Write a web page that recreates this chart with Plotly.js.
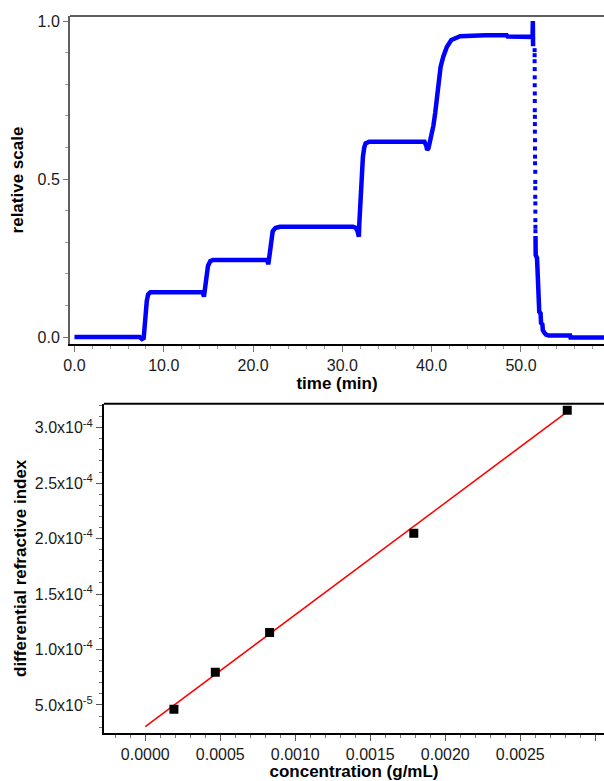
<!DOCTYPE html>
<html>
<head>
<meta charset="utf-8">
<script src="https://cdn.plot.ly/plotly-3.0.1.min.js"></script>
<style>html,body{margin:0;padding:0;background:#fff;}#chart{width:604px;height:781px;}</style>
</head>
<body>
<div id="chart"></div>
<script>
// ---- Top chart: relative scale vs time ----
const timeCurve = [0, 7.3, 7.55, 7.75, 7.85, 7.95, 8.1, 8.25, 8.5, 14.25, 14.4, 14.5, 14.6, 14.8, 14.95, 15.2, 15.5,
  21.6, 21.7, 21.85, 22.0, 22.2, 22.5, 23.0, 31.2, 31.5, 31.7, 31.85, 31.9, 31.95, 32.0, 32.05, 32.15, 32.3, 32.45, 32.6, 33.0,
  39.2, 39.4, 39.5, 39.65, 39.8, 40.0, 40.2, 40.4, 40.6, 40.8, 41.0, 41.3, 41.7, 42.2, 43.2, 46.0, 48.4, 48.5, 51.2, 51.3, 51.33, 51.36];
const relCurve = [0, 0, -0.006, -0.003, 0.03, 0.08, 0.115, 0.135, 0.142, 0.142, 0.138, 0.128, 0.145, 0.19, 0.225, 0.24, 0.244,
  0.244, 0.23, 0.26, 0.31, 0.335, 0.345, 0.349, 0.349, 0.346, 0.335, 0.318, 0.36, 0.39, 0.42, 0.46, 0.52, 0.57, 0.60, 0.613, 0.618,
  0.618, 0.605, 0.592, 0.598, 0.615, 0.64, 0.67, 0.71, 0.77, 0.82, 0.855, 0.887, 0.918, 0.94, 0.952, 0.955, 0.955, 0.951, 0.950, 0.950, 1.0, 0.92];
const timeDrop = [51.53, 51.53, 51.53, 51.54, 51.54, 51.54, 51.55, 51.55, 51.55, 51.56, 51.56, 51.56, 51.57, 51.57,
  51.58, 51.58, 51.6, 51.6, 51.6, 51.6, 51.61, 51.61, 51.61, 51.62, 51.62];
const relDrop = [0.908, 0.892, 0.873, 0.848, 0.822, 0.797, 0.771, 0.747, 0.718, 0.697, 0.674, 0.650, 0.623, 0.597,
  0.571, 0.550, 0.523, 0.491, 0.471, 0.444, 0.423, 0.397, 0.370, 0.349, 0.335];
const timeTail = [51.63, 51.65, 51.8, 51.85, 51.9, 52.0, 52.05, 52.2, 52.25, 52.4, 52.45, 52.6, 52.8, 53.1, 55.5, 55.55, 59.5];
const relTail = [0.32, 0.26, 0.25, 0.2, 0.14, 0.13, 0.08, 0.075, 0.045, 0.04, 0.022, 0.015, 0.008, 0.005, 0.005, -0.001, -0.001];

// ---- Bottom chart: differential refractive index vs concentration ----
const concentration = [0.000191, 0.000467, 0.000829, 0.00179, 0.002813];
const dRI = [4.61e-5, 7.95e-5, 1.153e-4, 2.048e-4, 3.157e-4];
const fitConc = [0, 0.00281];
const fitRI = [3.04e-5, 3.14e-4];
const riTickVals = [5e-5, 1e-4, 1.5e-4, 2e-4, 2.5e-4, 3e-4];
const riTickText = ['5.0x10<sup>-5</sup>', '1.0x10<sup>-4</sup>', '1.5x10<sup>-4</sup>', '2.0x10<sup>-4</sup>', '2.5x10<sup>-4</sup>', '3.0x10<sup>-4</sup>'];

const FONT = 'Liberation Sans, Arial, sans-serif';
const tickFont = {family: FONT, size: 16, color: '#1a1a1a'};
const titleFont = {family: FONT, size: 17, color: '#000', weight: 'bold'};

const traces = [
  {x: timeCurve, y: relCurve, xaxis: 'x', yaxis: 'y', mode: 'lines', line: {color: '#0000ff', width: 4.5}, hoverinfo: 'skip'},
  {x: timeDrop, y: relDrop, xaxis: 'x', yaxis: 'y', mode: 'markers', marker: {symbol: 'square', size: 4, color: '#0000ff'}, hoverinfo: 'skip'},
  {x: timeTail, y: relTail, xaxis: 'x', yaxis: 'y', mode: 'lines', line: {color: '#0000ff', width: 4.5}, hoverinfo: 'skip'},
  {x: fitConc, y: fitRI, xaxis: 'x2', yaxis: 'y2', mode: 'lines', line: {color: '#ff0000', width: 1.5}, hoverinfo: 'skip'},
  {x: concentration, y: dRI, xaxis: 'x2', yaxis: 'y2', mode: 'markers', marker: {symbol: 'square', size: 9, color: '#000'}, hoverinfo: 'skip'}
];

const layout = {
  width: 604, height: 781,
  margin: {l: 0, r: 0, t: 0, b: 0},
  paper_bgcolor: '#fff', plot_bgcolor: '#fff',
  showlegend: false,
  xaxis: {
    domain: [0.1159, 1], anchor: 'y', range: [-0.5, 59.3],
    tickmode: 'linear', tick0: 0, dtick: 10, tickformat: '.1f',
    ticks: 'outside', ticklen: 6, tickwidth: 1, tickcolor: '#777',
    minor: {dtick: 2, tick0: 0, ticks: 'outside', ticklen: 3, tickcolor: '#999', showgrid: false},
    showline: true, linecolor: '#000', linewidth: 2, showgrid: false, zeroline: false,
    tickfont: tickFont, automargin: false,
    title: {text: 'time (min)', font: titleFont, standoff: 4}
  },
  yaxis: {
    domain: [0.5595, 0.9795], anchor: 'x', range: [-0.022, 1.016],
    tickmode: 'linear', tick0: 0, dtick: 0.5, tickformat: '.1f',
    ticks: 'outside', ticklen: 5, tickwidth: 1, tickcolor: '#777',
    minor: {dtick: 0.1, tick0: 0, ticks: 'outside', ticklen: 3, tickcolor: '#999', showgrid: false},
    showline: true, linecolor: '#606060', linewidth: 2, showgrid: false, zeroline: false,
    tickfont: tickFont, automargin: false,
    title: {text: 'relative scale', font: titleFont, standoff: 10}
  },
  xaxis2: {
    domain: [0.1722, 1], anchor: 'y2', range: [-0.000275, 0.003058],
    tickmode: 'linear', tick0: 0, dtick: 0.0005, tickformat: '.4f',
    ticks: 'outside', ticklen: 6, tickwidth: 1, tickcolor: '#555',
    minor: {dtick: 0.0001, tick0: 0, ticks: 'outside', ticklen: 3, tickcolor: '#777', showgrid: false},
    showline: true, linecolor: '#000', linewidth: 2, showgrid: false, zeroline: false,
    tickfont: tickFont, automargin: false,
    title: {text: 'concentration (g/mL)', font: titleFont, standoff: 4}
  },
  yaxis2: {
    domain: [0.0615, 0.4831], anchor: 'x2', range: [2.475e-5, 3.216e-4],
    tickmode: 'array', tickvals: riTickVals, ticktext: riTickText,
    ticks: 'outside', ticklen: 6, tickwidth: 1, tickcolor: '#555',
    minor: {dtick: 1e-5, tick0: 0, ticks: 'outside', ticklen: 3, tickcolor: '#777', showgrid: false},
    showline: true, linecolor: '#000', linewidth: 2, showgrid: false, zeroline: false,
    tickfont: tickFont, automargin: false,
    title: {text: 'differential refractive index', font: titleFont, standoff: 4}
  },
  shapes: [
    {type: 'line', xref: 'x domain', yref: 'y domain', x0: 0, x1: 1, y0: 1, y1: 1, line: {color: '#606060', width: 2}},
    {type: 'line', xref: 'x2 domain', yref: 'y2 domain', x0: 0, x1: 1, y0: 1, y1: 1, line: {color: '#000', width: 2}}
  ]
};

Plotly.newPlot('chart', traces, layout, {displayModeBar: false, staticPlot: true});
</script>
</body>
</html>
